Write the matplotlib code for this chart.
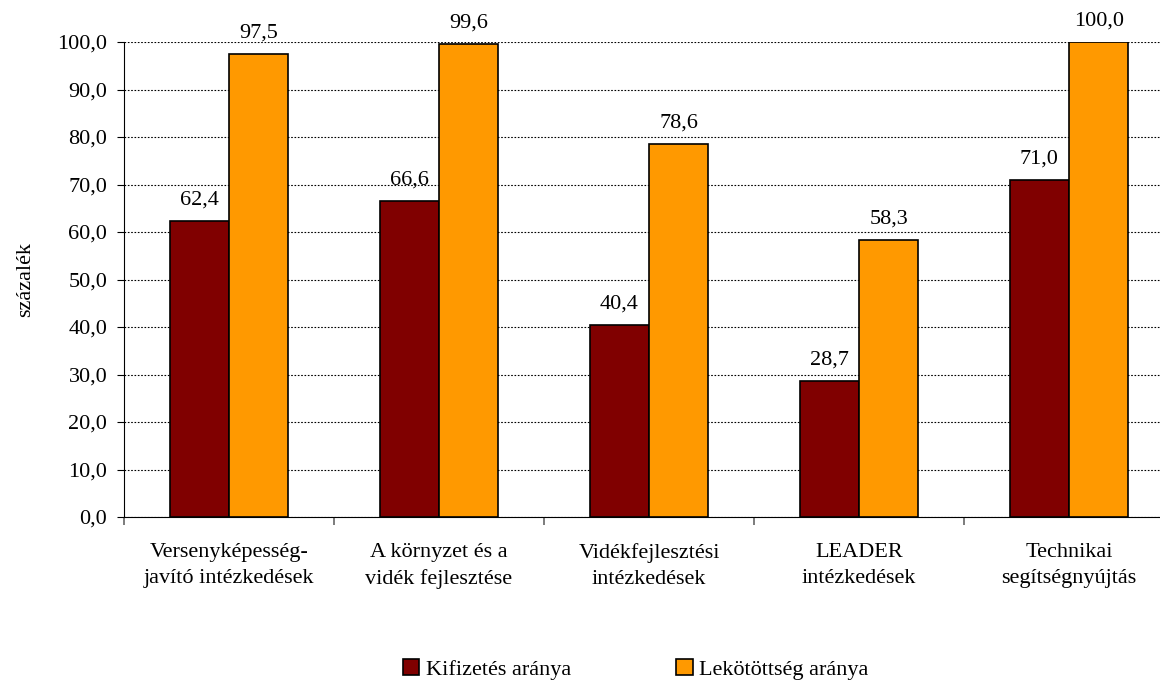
import matplotlib
matplotlib.use("Agg")
import matplotlib.pyplot as plt
import numpy as np

categories = ["Versenyképesség-\njavító intézkedések", "A környzet és a\nvidék fejlesztése",
              "Vidékfejlesztési\nintézkedések", "LEADER\nintézkedések", "Technikai\nsegítségnyújtás"]
kifizetes = [62.4, 66.6, 40.4, 28.7, 71.0]
lekotottseg = [97.5, 99.6, 78.6, 58.3, 100.0]
series_names = ["Kifizetés aránya", "Lekötöttség aránya"]

plt.rcParams["font.family"] = ["Liberation Serif", "DejaVu Serif"]
plt.rcParams["font.size"] = 16

fig = plt.figure(figsize=(11.6, 6.83), dpi=100)
# plot area runs past the right edge of the picture, as in the original
ax = fig.add_axes([0.1069, 0.243, 0.9052, 0.6955])

x = np.arange(len(categories)) + 0.5
w = 0.283
b1 = ax.bar(x - w / 2, kifizetes, w, color="#800000", edgecolor="black", linewidth=1.2,
            label=series_names[0], zorder=3)
b2 = ax.bar(x + w / 2, lekotottseg, w, color="#FF9900", edgecolor="black", linewidth=1.2,
            label=series_names[1], zorder=3)

for bars, vals in [(b1, kifizetes), (b2, lekotottseg)]:
    for rect, v in zip(bars, vals):
        ax.annotate(f"{v:.1f}".replace(".", ","), (rect.get_x() + rect.get_width() / 2, v),
                    xytext=(0, 8), textcoords="offset points", ha="center", va="bottom",
                    fontsize=16, annotation_clip=False)

ax.set_xlim(0, len(categories))
ax.set_ylim(0, 100)
ticks = np.arange(0, 101, 10)
ax.set_yticks(ticks)
ax.set_yticklabels([f"{v:.1f}".replace(".", ",") for v in ticks])
ax.yaxis.grid(True, linestyle=(0, (1.5, 1.5)), color="black", linewidth=0.8, zorder=0)

ax.set_xticks(np.arange(len(categories) + 1))
ax.set_xticklabels([])
ax.set_xticks(x, minor=True)
ax.set_xticklabels(categories, minor=True, linespacing=1.45)
ax.tick_params(axis="x", which="minor", length=0, pad=19)
ax.tick_params(axis="x", which="major", length=6, direction="out", color="#666666", width=1.2)
ax.tick_params(axis="y", length=5, direction="out", pad=7)

ax.spines["top"].set_visible(False)
ax.spines["right"].set_visible(False)
ax.set_ylabel("százalék", fontsize=16, labelpad=16)

fig.legend(handles=[b1, b2], loc="center", bbox_to_anchor=(0.548, 0.02), ncol=2,
           frameon=False, handlelength=0.75, handleheight=0.75, columnspacing=4.7,
           handletextpad=0.3, fontsize=16)

fig.savefig("out.png", dpi=100)
